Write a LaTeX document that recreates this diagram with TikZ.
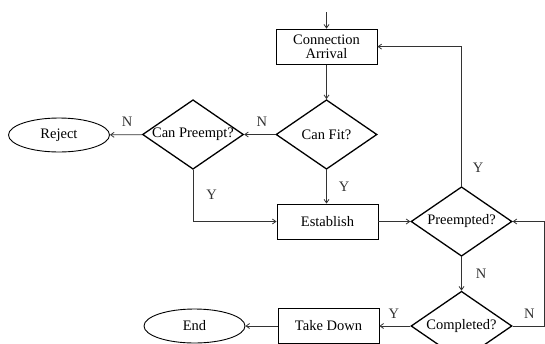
\documentclass[tikz,border=0pt]{standalone}
\usepackage{fontspec}
\setmainfont{Liberation Serif}
\usepackage{tikz}
\usetikzlibrary{
  arrows.meta,
  positioning,
  shapes.geometric
}
\newcommand{\dtext}[1]{\makebox[0pt]{#1}}

\begin{document}
\begin{tikzpicture}[
      x=1pt, y=-1pt,
      >={Straight Barb[length=3.5pt, width=5pt]},
      every node/.style={font=\fontsize{14.5}{13.5}\selectfont},
      box/.style={draw, line width=0.9pt, minimum width=101pt, minimum height=35pt, inner sep=0pt, align=center},
      decision/.style={diamond, draw, line width=1.3pt, minimum width=101pt, minimum height=69.5pt, inner sep=0pt},
      terminal/.style={ellipse, draw, line width=0.9pt, minimum width=101pt, minimum height=34pt, inner sep=0pt},
      flow/.style={->, line width=0.8pt, black!80},
      lab/.style={inner sep=0pt}
  ]
      \useasboundingbox (0,0) rectangle (545,343);

      % Nodos principales
      \node[box] (arrival) at (326.5, 46.6) {Connection\\Arrival};
      \node[decision] (canfit) at (326.5, 134.5) {\dtext{Can Fit?}};
      \node[decision] (canpre) at (193, 134.5) {\dtext{Can Preempt?}};
      \node[terminal] (reject) at (59, 135) {Reject};
      \node[box] (establish) at (327.5, 221.5) {Establish};
      \node[decision] (preempted) at (461.5, 221.5) {\dtext{Preempted?}};
      \node[decision] (completed) at (461.5, 326) {\dtext{Completed?}};
      \node[box] (takedown) at (328.5, 326) {Take Down};
      \node[terminal] (end) at (194.5, 326) {End};

      \coordinate (entry) at (326.5, 12);
      \coordinate (loop) at (544, 326);

      % Conexiones
      \draw[flow] (entry) -- (arrival);
      \draw[flow] (arrival) -- (canfit);
      \draw[flow] (canfit) -- node[lab, pos=.43, above=8pt] (n1) {N} (canpre);
      \draw[flow] (canpre) -- node[lab, pos=.47, above=8pt] (n2) {N} (reject);
      \draw[flow] (canpre.south) |- node[lab, pos=.245, right=13pt] (y1) {Y} (establish.west);
      \draw[flow] (canfit.south) -- node[lab, pos=.5, right=12pt] (y2) {Y} (canfit.south |- establish.north);
      \draw[flow] (establish) -- (preempted);
      \draw[flow] (preempted.north) |- node[lab, pos=.066, right=11pt] (y3) {Y} (arrival.east);
      \draw[flow] (preempted) -- node[lab, pos=.51, right=14pt] (n3) {N} (completed);
      \draw[flow] (completed) -- node[lab, pos=.53, above=7.5pt] (y4) {Y} (takedown);
      \draw[flow] (completed.east) -- node[lab, pos=.53, above=7pt] (n4) {N} (loop) |- (preempted.east);
      \draw[flow] (takedown) -- (end);

  \end{tikzpicture}
\end{document}
